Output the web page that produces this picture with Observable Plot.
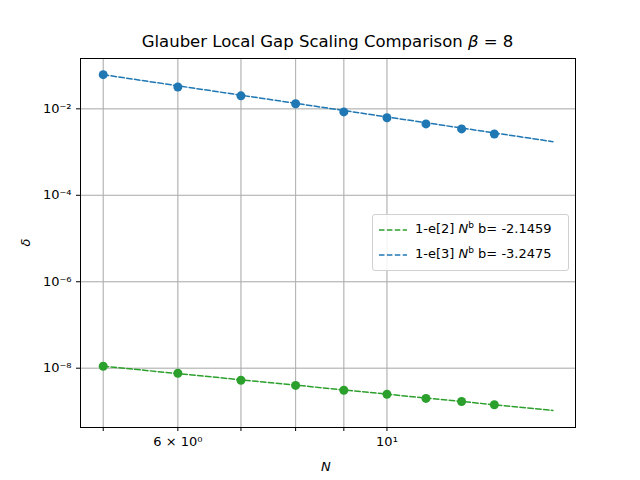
<!DOCTYPE html>
<html><head><meta charset="utf-8">
<script src="https://cdn.jsdelivr.net/npm/d3@7"></script>
<script src="https://cdn.jsdelivr.net/npm/@observablehq/plot@0.6"></script>
<style>
body{margin:0;background:#fff;font-family:"DejaVu Sans",sans-serif;}
#wrap{position:relative;width:640px;height:480px;}
.t{position:absolute;white-space:nowrap;color:#000;}
#legend{position:absolute;left:372px;top:214px;width:195px;height:55px;border:1px solid #d0d0d0;border-radius:3px;background:rgba(255,255,255,0.85);font-size:13px;}
#legend div{position:absolute;left:6px;white-space:nowrap;}
#legend svg{vertical-align:middle;}
</style></head><body>
<div id="wrap"></div>
<script>
const N = [5,6,7,8,9,10,11,12,13];
const gap3 = [0.0617,0.032,0.020,0.0131,0.0085,0.0062,0.00448,0.00343,0.00262];
const gap2 = [1.11e-8,7.65e-9,5.26e-9,4.0e-9,3.08e-9,2.5e-9,2.0e-9,1.7e-9,1.43e-9];
const b3 = -3.2475, b2 = -2.1459;
const fitN = [5,15];
const fit3 = [0.0617,0.0617*Math.pow(3,b3)];
const fit2 = [1.11e-8,1.11e-8*Math.pow(3,b2)];
const yTicks = [1e-8,1e-6,1e-4,1e-2];
const yLabels = ["10⁻⁸","10⁻⁶","10⁻⁴","10⁻²"];
const xTicks = [5,6,7,8,9,10];
const xLabels = {6:"6 × 10⁰",10:"10¹"};
const blue="#1f77b4", green="#2ca02c";

const pts = (ys)=>N.map((n,i)=>({n,y:ys[i]}));
const fit = (ys)=>fitN.map((n,i)=>({n,y:ys[i]}));

const plot = Plot.plot({
  width:640,height:480,
  marginTop:58,marginBottom:53,marginLeft:80,marginRight:65,
  style:{fontFamily:"DejaVu Sans",fontSize:"13px",color:"#000"},
  x:{type:"log",domain:[4.73,15.85],ticks:xTicks,tickFormat:d=>xLabels[d]||"",grid:true,label:null,tickSize:4},
  y:{type:"log",domain:[Math.pow(10,-9.372),0.146],ticks:yTicks,tickFormat:d=>yLabels[yTicks.indexOf(d)],grid:true,label:null,tickSize:4},
  marks:[
    Plot.gridX(xTicks,{stroke:"#b0b0b0",strokeOpacity:1}),
    Plot.gridY(yTicks,{stroke:"#b0b0b0",strokeOpacity:1}),
    Plot.line(fit(fit2),{x:"n",y:"y",stroke:green,strokeWidth:1.5,strokeDasharray:"5.5,2.4"}),
    Plot.line(fit(fit3),{x:"n",y:"y",stroke:blue,strokeWidth:1.5,strokeDasharray:"5.5,2.4"}),
    Plot.dot(pts(gap2),{x:"n",y:"y",fill:green,r:4.5}),
    Plot.dot(pts(gap3),{x:"n",y:"y",fill:blue,r:4.5}),
    Plot.frame({stroke:"#000"})
  ]
});
const w=document.getElementById("wrap");
w.appendChild(plot);
function add(html,style){const d=document.createElement("div");d.className="t";d.innerHTML=html;Object.assign(d.style,style);w.appendChild(d);}
add("Glauber Local Gap Scaling Comparison <i>β</i> = 8",{left:"0",width:"655px",textAlign:"center",top:"32px",fontSize:"16.5px"});
add("<i>N</i>",{left:"321px",top:"459px",fontSize:"13px"});
add("<i>δ</i>",{left:"22px",top:"235px",fontSize:"13px",transform:"rotate(-90deg)"});
const lg=document.createElement("div");lg.id="legend";
const seg=c=>`<svg width="30" height="10" style="margin-right:6px"><line x1="0" y1="5" x2="28" y2="5" stroke="${c}" stroke-width="1.5" stroke-dasharray="5.5,2.4"/></svg>`;
lg.innerHTML=`<div style="top:5px">${seg(green)}<span>1-e[2] <i>N</i><sup style="font-size:9px">b</sup> b= -2.1459</span></div><div style="top:30px">${seg(blue)}<span>1-e[3] <i>N</i><sup style="font-size:9px">b</sup> b= -3.2475</span></div>`;
w.appendChild(lg);
</script></body></html>
